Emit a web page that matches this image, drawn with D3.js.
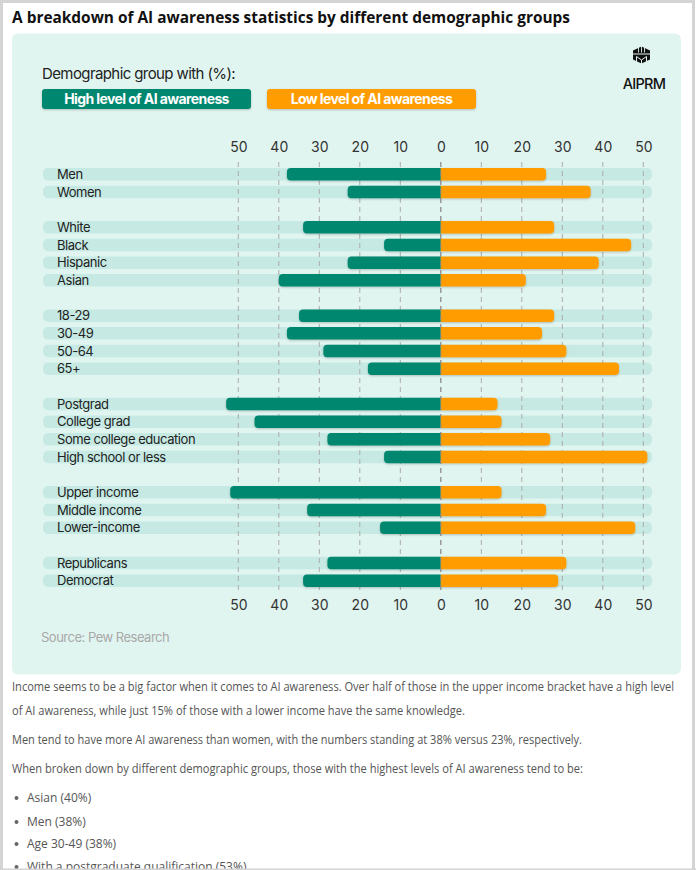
<!DOCTYPE html>
<html>
<head>
<meta charset="utf-8">
<script src="https://cdn.jsdelivr.net/npm/d3@7"></script>
<style>
  body { margin: 0; background: #fff; }
  svg { display: block; }
</style>
</head>
<body>
<div id="chart"></div>
<script>
// data
var categories = ["Men", "Women", "White", "Black", "Hispanic", "Asian",
  "18-29", "30-49", "50-64", "65+",
  "Postgrad", "College grad", "Some college education", "High school or less",
  "Upper income", "Middle income", "Lower-income",
  "Republicans", "Democrat"];
var groupOf = [0, 0, 1, 1, 1, 1, 2, 2, 2, 2, 3, 3, 3, 3, 4, 4, 4, 5, 5];
var highValues = [38, 23, 34, 14, 23, 40, 35, 38, 29, 18, 53, 46, 28, 14, 52, 33, 15, 28, 34];
var lowValues = [26, 37, 28, 47, 39, 21, 28, 25, 31, 44, 14, 15, 27, 51, 15, 26, 48, 31, 29];
var tickValues = [-50, -40, -30, -20, -10, 0, 10, 20, 30, 40, 50];
var seriesNames = ["High level of AI awareness", "Low level of AI awareness"];

var title = "A breakdown of AI awareness statistics by different demographic groups";
var paragraphs = [
  ["Income seems to be a big factor when it comes to AI awareness. Over half of those in the upper income bracket have a high level",
   "of AI awareness, while just 15% of those with a lower income have the same knowledge."],
  ["Men tend to have more AI awareness than women, with the numbers standing at 38% versus 23%, respectively."],
  ["When broken down by different demographic groups, those with the highest levels of AI awareness tend to be:"]
];
var bullets = ["Asian (40%)", "Men (38%)", "Age 30-49 (38%)", "With a postgraduate qualification (53%)"];

var svgWidth = 696;
var svgHeight = 870;
var green = "#00876f";
var orange = "#ff9d00";
var track = "#c6eae3";
var panelFill = "#e1f5f0";
var chartFont = "Inter, 'Noto Sans', sans-serif";
var bodyFont = "'Open Sans', 'Noto Sans', sans-serif";

var svg = d3.select("#chart")
  .append("svg")
  .attr("width", svgWidth)
  .attr("height", svgHeight);

var defs = svg.append("defs");
var shadow = defs.append("filter").attr("id", "shadow")
  .attr("x", "-5%").attr("y", "-40%").attr("width", "110%").attr("height", "180%");
shadow.append("feDropShadow")
  .attr("dx", 0).attr("dy", 1).attr("stdDeviation", 0.9)
  .attr("flood-color", "#000").attr("flood-opacity", 0.22);

// page frame
svg.append("rect")
  .attr("x", 1.5).attr("y", 1.5)
  .attr("width", svgWidth - 4).attr("height", svgHeight + 10)
  .attr("fill", "none").attr("stroke", "#d4d4d4").attr("stroke-width", 3);

svg.append("text")
  .attr("x", 12).attr("y", 23)
  .attr("font-family", bodyFont).attr("font-weight", 700)
  .attr("font-size", 15.5).attr("fill", "#111")
  .attr("textLength", 558).attr("lengthAdjust", "spacingAndGlyphs")
  .text(title);

// chart panel
svg.append("rect")
  .attr("x", 12).attr("y", 33.5)
  .attr("width", 669).attr("height", 641)
  .attr("rx", 6).attr("fill", panelFill);

// legend
svg.append("text")
  .attr("x", 42).attr("y", 79)
  .attr("font-family", chartFont).attr("font-size", 15)
  .attr("letter-spacing", -0.6).attr("fill", "#222")
  .text("Demographic group with (%):");

var legendBoxes = [{x: 42, w: 209, fill: green}, {x: 267, w: 209, fill: orange}];
var legend = svg.selectAll(".legend")
  .data(seriesNames)
  .enter()
  .append("g")
  .attr("class", "legend");

legend.append("rect")
  .attr("x", (d, i) => legendBoxes[i].x).attr("y", 89)
  .attr("width", (d, i) => legendBoxes[i].w).attr("height", 20)
  .attr("rx", 3)
  .attr("fill", (d, i) => legendBoxes[i].fill)
  .attr("filter", "url(#shadow)");

legend.append("text")
  .attr("x", (d, i) => legendBoxes[i].x + legendBoxes[i].w / 2).attr("y", 104)
  .attr("text-anchor", "middle")
  .attr("font-family", chartFont).attr("font-weight", 700)
  .attr("font-size", 14).attr("letter-spacing", -0.6)
  .attr("fill", "#fff")
  .text(d => d);

// AIPRM logo
var logo = svg.append("g").attr("transform", "translate(641.5, 55)");
logo.append("path")
  .attr("d", "M0,-8.5 L8.5,-4.5 L8.5,4.5 L0,8.5 L-8.5,4.5 L-8.5,-4.5 Z")
  .attr("fill", "#111");
logo.selectAll(".logo-cut")
  .data([-3, 0, 3])
  .enter()
  .append("line")
  .attr("x1", d => d).attr("x2", d => d)
  .attr("y1", -9).attr("y2", -2.5)
  .attr("stroke", panelFill).attr("stroke-width", 0.9);
logo.append("path")
  .attr("d", "M-9,-1 L9,-1 M-5,1.5 L0,5 L5,1.5 M0,5 L0,9 M-5,1.5 L-5,6.5 M5,1.5 L5,6.5")
  .attr("stroke", panelFill).attr("stroke-width", 1).attr("fill", "none");
svg.append("text")
  .attr("x", 644).attr("y", 88.5)
  .attr("text-anchor", "middle")
  .attr("font-family", chartFont).attr("font-weight", 500)
  .attr("font-size", 14.5).attr("letter-spacing", -0.7).attr("fill", "#111")
  .text("AIPRM");

// rows: one band per category, one empty band between groups
var rows = [];
categories.forEach(function(c, i) {
  if (i > 0 && groupOf[i] !== groupOf[i - 1]) rows.push("gap" + i);
  rows.push(c);
});

var yScale = d3.scaleBand()
  .domain(rows)
  .range([165.5, 589.5])
  .paddingInner(0.29)
  .paddingOuter(0.145);

var xScale = d3.scaleLinear()
  .domain([-50, 50])
  .range([238.3, 643.3]);

var barH = yScale.bandwidth();
var rowData = categories.map(function(c, i) {
  return {name: c, high: highValues[i], low: lowValues[i]};
});

// background tracks
svg.append("g").selectAll("rect")
  .data(rowData)
  .enter()
  .append("rect")
  .attr("x", 43).attr("width", 609)
  .attr("y", d => yScale(d.name))
  .attr("height", barH)
  .attr("rx", 5)
  .attr("fill", track);

// dashed grid
svg.append("g").selectAll("line")
  .data(tickValues)
  .enter()
  .append("line")
  .attr("x1", d => xScale(d)).attr("x2", d => xScale(d))
  .attr("y1", 162).attr("y2", 591)
  .attr("stroke", "#ababab").attr("stroke-width", 1)
  .attr("stroke-dasharray", "5,4");

function leftBar(x0, x1, y, h, r) {
  return `M${x1},${y} L${x0 + r},${y} Q${x0},${y} ${x0},${y + r} L${x0},${y + h - r} Q${x0},${y + h} ${x0 + r},${y + h} L${x1},${y + h} Z`;
}
function rightBar(x0, x1, y, h, r) {
  return `M${x0},${y} L${x1 - r},${y} Q${x1},${y} ${x1},${y + r} L${x1},${y + h - r} Q${x1},${y + h} ${x1 - r},${y + h} L${x0},${y + h} Z`;
}

var bars = svg.append("g").attr("filter", "url(#shadow)");
bars.selectAll(".high")
  .data(rowData)
  .enter()
  .append("path")
  .attr("class", "high")
  .attr("d", d => leftBar(xScale(-d.high), xScale(0), yScale(d.name), barH, 4))
  .attr("fill", green);

bars.selectAll(".low")
  .data(rowData)
  .enter()
  .append("path")
  .attr("class", "low")
  .attr("d", d => rightBar(xScale(0), xScale(d.low), yScale(d.name), barH, 4))
  .attr("fill", orange);

// zero line over the bars
svg.append("line")
  .attr("x1", xScale(0)).attr("x2", xScale(0))
  .attr("y1", 162).attr("y2", 591)
  .attr("stroke", "#8a8a8a").attr("stroke-width", 1)
  .attr("stroke-dasharray", "5,4");

// category labels
svg.append("g").selectAll("text")
  .data(rowData)
  .enter()
  .append("text")
  .attr("x", 57)
  .attr("y", d => yScale(d.name) + barH / 2 + 4.6)
  .attr("font-family", chartFont).attr("font-size", 13)
  .attr("letter-spacing", -0.45).attr("fill", "#222")
  .text(d => d.name);

// top and bottom axes
var topAxis = d3.axisTop(xScale).tickValues(tickValues).tickSize(0).tickPadding(0)
  .tickFormat(d => Math.abs(d));
var bottomAxis = d3.axisBottom(xScale).tickValues(tickValues).tickSize(0).tickPadding(0)
  .tickFormat(d => Math.abs(d));

var axisTopG = svg.append("g")
  .attr("transform", "translate(0, 152)")
  .call(topAxis);
var axisBottomG = svg.append("g")
  .attr("transform", "translate(0, 600)")
  .call(bottomAxis);

[axisTopG, axisBottomG].forEach(function(g) {
  g.select(".domain").remove();
  g.selectAll("text")
    .attr("font-family", chartFont).attr("font-size", 14)
    .attr("fill", "#333");
});
axisTopG.selectAll("text").attr("dy", 0);
axisBottomG.selectAll("text").attr("dy", "0.71em");

svg.append("text")
  .attr("x", 41).attr("y", 642)
  .attr("font-family", chartFont).attr("font-size", 13)
  .attr("letter-spacing", -0.5).attr("fill", "#a8a8a8")
  .text("Source: Pew Research");

// article text under the chart
var lineWidths = [662, 453, 570, 571];
var lineYs = [691, 715, 744, 773];
var lines = [];
paragraphs.forEach(p => p.forEach(l => lines.push(l)));

svg.append("g").selectAll("text")
  .data(lines)
  .enter()
  .append("text")
  .attr("x", 12)
  .attr("y", (d, i) => lineYs[i])
  .attr("font-family", bodyFont).attr("font-size", 12)
  .attr("fill", "#555")
  .attr("textLength", (d, i) => lineWidths[i])
  .attr("lengthAdjust", "spacingAndGlyphs")
  .text(d => d);

var bulletYs = [802, 826, 848, 871];
var bulletG = svg.append("g").selectAll("g")
  .data(bullets)
  .enter()
  .append("g");
bulletG.append("circle")
  .attr("cx", 16.5).attr("cy", (d, i) => bulletYs[i] - 4)
  .attr("r", 2).attr("fill", "#666");
bulletG.append("text")
  .attr("x", 27)
  .attr("y", (d, i) => bulletYs[i])
  .attr("font-family", bodyFont).attr("font-size", 12)
  .attr("fill", "#555")
  .text(d => d);

// bottom edge of the frame, over the cut-off line
svg.append("rect")
  .attr("x", 0).attr("y", svgHeight - 1.5)
  .attr("width", svgWidth).attr("height", 1.5)
  .attr("fill", "#d4d4d4");
</script>
</body>
</html>
